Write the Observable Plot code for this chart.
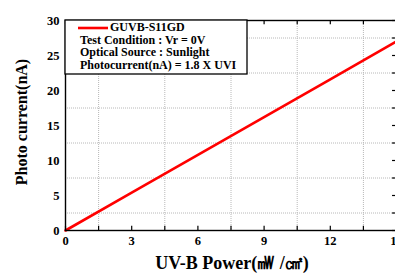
<!DOCTYPE html>
<html>
<head>
<meta charset="utf-8">
<script src="https://cdn.jsdelivr.net/npm/d3@7"></script>
<script src="https://cdn.jsdelivr.net/npm/@observablehq/plot@0.6"></script>
<style>
  html, body { margin: 0; padding: 0; background: #fff; overflow: hidden; width: 395px; height: 273px; }
  #chart { position: relative; width: 395px; height: 273px; overflow: hidden; }
  #chart svg { max-width: none !important; display: block; }
</style>
</head>
<body>
<div id="chart"></div>
<script>
// Data
const power = [0, 3, 6, 9, 12, 15];            // UV-B power (mW/cm²)
const current = [0, 5.4, 10.8, 16.2, 21.6, 27]; // photo current (nA)
const xTicks = [0, 3, 6, 9, 12, 15];
const yTicks = [0, 5, 10, 15, 20, 25, 30];
const xMinor = [1.5, 4.5, 7.5, 10.5, 13.5];
const yMinor = [2.5, 7.5, 12.5, 17.5, 22.5, 27.5];
const legendTitle = "GUVB-S11GD";
const legendLines = ["Test Condition : Vr = 0V", "Optical Source : Sunlight", "Photocurrent(nA) = 1.8 X UVI"];
const xTitle = "UV-B Power(㎽ /㎠)";
const yTitle = "Photo current(nA)";

const data = power.map((p, i) => ({p, c: current[i]}));
const FONT = "'Liberation Serif', 'Times New Roman', serif";

const xAll = [...xTicks, ...xMinor];
const yAll = [...yTicks, ...yMinor];

const plot = Plot.plot({
  width: 401,
  height: 273,
  marginLeft: 65,
  marginRight: 5,
  marginTop: 20,
  marginBottom: 43,
  style: {fontFamily: FONT, fontWeight: "bold", fontSize: "12px", color: "#000", background: "#fff"},
  x: {domain: [0, 15]},
  y: {domain: [0, 30]},
  marks: [
    Plot.ruleX(xMinor, {stroke: "#b8b8b8", strokeWidth: 1, strokeDasharray: "1,1"}),
    Plot.ruleY(yMinor, {stroke: "#b8b8b8", strokeWidth: 1, strokeDasharray: "1,1"}),
    Plot.line(data, {x: "p", y: "c", stroke: "#ff0000", strokeWidth: 2.6}),
    // inward ticks: bottom, top, right
    Plot.ruleX(xAll, {y1: 0, y2: 0.6, stroke: "#000", strokeWidth: 1.2}),
    Plot.ruleX(xAll, {y1: 30, y2: 29.4, stroke: "#000", strokeWidth: 1.2}),
    Plot.ruleY(yAll, {x1: 15, x2: 14.82, stroke: "#000", strokeWidth: 1.2}),
    Plot.frame({stroke: "#000", strokeWidth: 1.4}),
    Plot.axisX(xTicks, {tickSize: 0, tickPadding: 6, fontSize: 12.5, fontWeight: "bold", label: null}),
    Plot.axisY(yTicks, {tickSize: 0, tickPadding: 6, fontSize: 12.5, fontWeight: "bold", label: null}),
    Plot.text([xTitle], {frameAnchor: "bottom", dy: 33, dx: 1, fontSize: 18, fontWeight: "bold", text: d => d, textAnchor: "middle", lineAnchor: "middle"}),
  ]
});

document.getElementById("chart").appendChild(plot);

// Rotated y title and legend box drawn in the SVG
const svg = d3.select(plot);
svg.append("text")
  .attr("transform", "translate(23,122) rotate(-90)")
  .attr("text-anchor", "middle")
  .attr("dominant-baseline", "middle")
  .style("font-family", FONT).style("font-weight", "bold").style("font-size", "16px")
  .text(yTitle);

const lg = svg.append("g");
lg.append("rect").attr("x", 65).attr("y", 20).attr("width", 182).attr("height", 54)
  .attr("fill", "#fff").attr("stroke", "#000").attr("stroke-width", 1.3);
lg.append("line").attr("x1", 78).attr("x2", 108).attr("y1", 28).attr("y2", 28)
  .attr("stroke", "#ff0000").attr("stroke-width", 2.6);
lg.append("text").attr("x", 110).attr("y", 28).attr("dominant-baseline", "middle")
  .attr("text-anchor", "start")
  .style("font-family", FONT).style("font-weight", "bold").style("font-size", "12px")
  .text(legendTitle);
legendLines.forEach((t, i) => {
  lg.append("text").attr("x", 80).attr("y", 41 + i * 12.7).attr("dominant-baseline", "middle")
    .attr("text-anchor", "start")
    .style("font-family", FONT).style("font-weight", "bold").style("font-size", "12px")
    .text(t);
});
</script>
</body>
</html>
